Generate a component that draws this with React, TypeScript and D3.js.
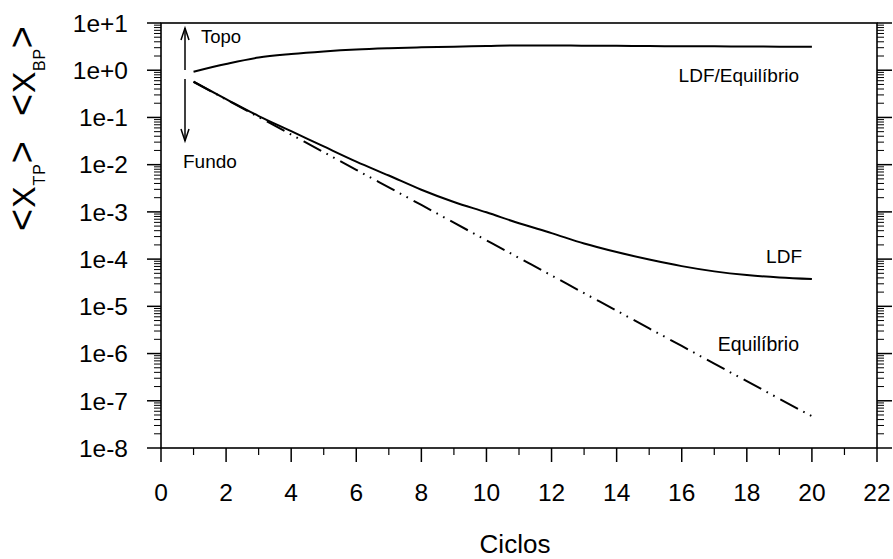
import React from "react";
import * as d3 from "d3";

const cycles = [1, 2, 3, 4, 5, 6, 7, 8, 9, 10, 11, 12, 13, 14, 15, 16, 17, 18, 19, 20];
const topoLDFEq = [0.93, 1.35, 1.85, 2.2, 2.5, 2.75, 2.92, 3.05, 3.15, 3.25, 3.35, 3.35, 3.3, 3.28, 3.25, 3.22, 3.2, 3.18, 3.16, 3.15];
const fundoLDF = [0.57, 0.245, 0.107, 0.0513, 0.0243, 0.0116, 0.00589, 0.00295, 0.00162, 9.8e-4, 5.75e-4, 3.55e-4, 2.14e-4, 1.41e-4, 9.8e-5, 7.1e-5, 5.5e-5, 4.6e-5, 4.1e-5, 3.8e-5];
const fundoEq = [0.57, 0.24, 0.102, 0.0433, 0.0184, 0.00778, 0.0033, 0.0014, 5.9e-4, 2.5e-4, 1.06e-4, 4.5e-5, 1.9e-5, 8.1e-6, 3.4e-6, 1.45e-6, 6.1e-7, 2.6e-7, 1.1e-7, 4.7e-8];

const xMajorTicks = [0, 2, 4, 6, 8, 10, 12, 14, 16, 18, 20, 22];
const xMinorTicks = [1, 3, 5, 7, 9, 11, 13, 15, 17, 19, 21];
const yDecades = [1e1, 1e0, 1e-1, 1e-2, 1e-3, 1e-4, 1e-5, 1e-6, 1e-7, 1e-8];
const yTickLabels = ["1e+1", "1e+0", "1e-1", "1e-2", "1e-3", "1e-4", "1e-5", "1e-6", "1e-7", "1e-8"];
const minorMultipliers = [2, 3, 4, 5, 6, 7, 8, 9];

const FONT = "'Liberation Sans', Arial, Helvetica, sans-serif";

export default function App() {
  const W = 893, H = 559;
  const L = 161, R = 877, T = 23, B = 448;
  const x = d3.scaleLinear().domain([0, 22]).range([L, R]);
  const y = d3.scaleLog().domain([1e-8, 10]).range([B, T]);

  const minorY: number[] = [];
  yDecades.slice(1).forEach((d) => minorMultipliers.forEach((m) => minorY.push(d * m)));

  const line = d3
    .line<number>()
    .x((_, i) => x(cycles[i]))
    .y((v) => y(v))
    .curve(d3.curveMonotoneX);

  const ax = 185;
  const stroke = "#000";

  return (
    <svg width={W} height={H} style={{ position: "absolute", left: 0, top: 0, background: "#fff" }} fontFamily={FONT}>
      <rect x={0} y={0} width={W} height={H} fill="#fff" />
      {/* frame */}
      <rect x={L} y={T} width={R - L} height={B - T} fill="none" stroke={stroke} strokeWidth={1.6} />

      {/* x ticks */}
      {xMajorTicks.map((t) => (
        <g key={"xm" + t}>
          <line x1={x(t)} x2={x(t)} y1={B} y2={B + 14} stroke={stroke} strokeWidth={1.5} />
          <text x={x(t)} y={501} fontSize={24.5} textAnchor="middle" fill="#000">{t}</text>
        </g>
      ))}
      {xMinorTicks.map((t) => (
        <line key={"xn" + t} x1={x(t)} x2={x(t)} y1={B} y2={B + 7} stroke={stroke} strokeWidth={1.2} />
      ))}

      {/* y ticks left & right */}
      {yDecades.map((d, i) => (
        <g key={"yd" + i}>
          <line x1={L - 14} x2={L} y1={y(d)} y2={y(d)} stroke={stroke} strokeWidth={1.5} />
          <line x1={R} x2={R + 15} y1={y(d)} y2={y(d)} stroke={stroke} strokeWidth={1.5} />
          <text x={128} y={y(d)} dy="0.36em" fontSize={24.5} textAnchor="end" fill="#000">{yTickLabels[i]}</text>
        </g>
      ))}
      {minorY.map((v, i) => (
        <g key={"yn" + i}>
          <line x1={L - 7} x2={L} y1={y(v)} y2={y(v)} stroke={stroke} strokeWidth={1} />
          <line x1={R} x2={R + 7} y1={y(v)} y2={y(v)} stroke={stroke} strokeWidth={1} />
        </g>
      ))}

      {/* curves */}
      <path d={line(topoLDFEq) || ""} fill="none" stroke={stroke} strokeWidth={2} />
      <path d={line(fundoLDF) || ""} fill="none" stroke={stroke} strokeWidth={2} />
      <path d={line(fundoEq) || ""} fill="none" stroke={stroke} strokeWidth={2} strokeDasharray="20,6,1.6,6,1.6,6.5" />

      {/* arrows */}
      <line x1={ax} x2={ax} y1={70} y2={28} stroke={stroke} strokeWidth={1.5} />
      <polyline points={`${ax - 4},${40} ${ax},${28} ${ax + 4},${40}`} fill="none" stroke={stroke} strokeWidth={1.5} />
      <line x1={ax} x2={ax} y1={79} y2={141} stroke={stroke} strokeWidth={1.5} />
      <polyline points={`${ax - 4},${129} ${ax},${141} ${ax + 4},${129}`} fill="none" stroke={stroke} strokeWidth={1.5} />

      {/* annotations */}
      <text x={201} y={43} fontSize={18.5} fill="#000">Topo</text>
      <text x={183} y={168} fontSize={19} fill="#000">Fundo</text>
      <text x={799} y={82} fontSize={19} textAnchor="end" fill="#000">LDF/Equilíbrio</text>
      <text x={802} y={263} fontSize={19} textAnchor="end" fill="#000">LDF</text>
      <text x={799} y={351} fontSize={19.5} textAnchor="end" fill="#000">Equilíbrio</text>

      {/* y axis title */}
      <text transform="translate(35,231) rotate(-90)" fontSize={32} fill="#000" textLength={90} lengthAdjust="spacing">
        <tspan fontSize={38}>&lt;</tspan>
        <tspan>X</tspan>
        <tspan fontSize={16} dy={10}>TP</tspan>
        <tspan fontSize={38} dy={-10}>&gt;</tspan>
      </text>
      <text transform="translate(35,116) rotate(-90)" fontSize={32} fill="#000" textLength={90} lengthAdjust="spacing">
        <tspan fontSize={38}>&lt;</tspan>
        <tspan>X</tspan>
        <tspan fontSize={16} dy={10}>BP</tspan>
        <tspan fontSize={38} dy={-10}>&gt;</tspan>
      </text>

      {/* x axis title */}
      <text x={515} y={553} fontSize={26} textAnchor="middle" fill="#000">Ciclos</text>
    </svg>
  );
}
